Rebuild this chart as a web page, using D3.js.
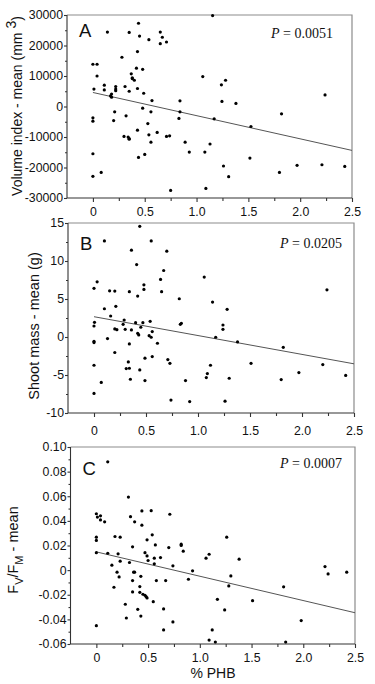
<!DOCTYPE html>
<html>
<head>
<meta charset="utf-8">
<script src="https://cdn.jsdelivr.net/npm/d3@7/dist/d3.min.js"></script>
<style>
  body { margin: 0; background: #fff; }
  svg { display: block; }
  text { font-family: "Liberation Sans", Arial, Helvetica, sans-serif; fill: #111; }
</style>
</head>
<body>
<div id="chart"></div>
<script>
// Panel A: volume index - mean (mm3) vs % PHB
const phbA = [0, 0.04, 0.04, 0.01, 0, 0, 0, 0, 0.08, 0.14, 0.11, 0.11, 0.17, 0.18, 0.18, 0.22, 0.22, 0.22, 0.21, 0.20,
  0.28, 0.31, 0.32, 0.30, 0.34, 0.35, 0.35, 0.35, 0.35, 0.37, 0.38, 0.38, 0.40, 0.42, 0.43, 0.43, 0.43, 0.44, 0.45, 0.44,
  0.48, 0.49, 0.48, 0.50, 0.54, 0.53, 0.54, 0.57, 0.56, 0.56, 0.62, 0.65, 0.65, 0.67, 0.71, 0.71, 0.74, 0.75, 0.84, 0.84,
  0.83, 0.89, 0.93, 1.06, 1.08, 1.09, 1.13, 1.155, 1.17, 1.24, 1.28, 1.245, 1.26, 1.31, 1.38, 1.515, 1.525, 1.82, 1.80, 1.97,
  2.21, 2.24, 2.43];
const volA = [13850, 13850, 10000, 5700, -3700, -4800, -15500, -22900, -21600, 24400, 7000, 5450, 3500, 4100, 3050, 6550, 5700, 5200, -1750, -4600,
  16150, 6550, -3050, -9800, -10000, -10500, -10700, 5000, 24300, 10700, 9400, 9150, 8600, 12550, 18000, 5900, -7750, 27300, 23100, -16700,
  12200, 4350, -550, -15700, 21900, -5600, -9300, 1950, -1750, -11700, -8500, 20600, 24400, 22700, 21150, -9800, -9600, -27500, 1850, -1750,
  -3900, -11700, -14950, 9800, -14950, -26850, -12300, 29800, -4050, 7100, 8600, 1650, -19500, -23000, 1000, -16900, -6550, -2400, -21600, -19300,
  -19100, 3800, -19650];
const fitA = [4600, -14400];

// Panel B: shoot mass - mean (g) vs % PHB
const phbB = [0.44, 0.10, 0.55, 0.36, 0.70, 0.41, 0.67, 0, 0.03, 0.15, 0.20, 0.34, 0.42, 0.48, 0.48, 0.64, 0.65, 1.06, 0.82, 1.14,
  1.28, 0.10, 0.21, 0.16, 0.005, 0, 0.20, 0.22, 0.29, 0.28, 0.30, 0.36, 0.40, 0.42, 0.43, 0.45, 0.47, 0.54, 0.53, 0.56,
  0.55, 0.13, 0, 0, 0.61, 0.83, 0.84, 1.17, 1.24, 1.24, 1.38, 0.34, 0.20, 0.33, 0.31, 0.34, 0.35, 0.44, 0.49, 0.56,
  0.49, 0, 0.07, 0, 0.71, 0.73, 0.74, 0.88, 0.92, 1.12, 1.09, 1.08, 1.26, 1.30, 1.51, 1.82, 1.80, 1.97, 2.20, 2.24,
  2.42];
const massB = [14.56, 12.64, 12.64, 11.42, 11.29, 9.53, 8.75, 6.4, 7.26, 6.08, 6.04, 5.96, 5.39, 6.87, 6.26, 7.57, 5.96, 7.88, 5.03, 4.6,
  3.64, 3.72, 4.03, 2.76, 1.93, 1.45, 1.06, 0.97, 2.24, 1.67, 1.01, 0.93, 1.89, 0.49, 0.27, 1.28, 1.89, 2.06, 0.18, 0.71,
  -0.03, -0.21, -0.56, -0.73, -0.82, 1.67, 1.80, -0.03, 1.58, 1.01, -0.65, -0.91, -2.04, -3.28, -4.16, -4.11, -5.56, -4.33, -2.79, -2.58,
  -5.73, -3.72, -5.98, -7.42, -2.97, -3.46, -8.3, -5.73, -8.5, -3.72, -4.81, -5.34, -8.44, -5.43, -3.46, -1.36, -5.6, -4.68, -3.63, 6.21,
  -5.05];
const fitB = [2.67, -3.53];

// Panel C: FV/FM - mean vs % PHB
const phbC = [0.11, 0.31, 0, 0.01, 0.04, 0.04, 0.08, 0, 0, 0, 0.18, 0.23, 0.33, 0.37, 0.44, 0.53, 0.44, 0.71, 0.35, 0.49,
  0.54, 0.57, 0.47, 0.49, 0.50, 0.56, 0.56, 0.62, 0.70, 0.82, 0.82, 0.84, 0.74, 0.11, 0.21, 0.15, 0.23, 0.32, 0.20, 0.22,
  0.36, 0.37, 0.35, 0.43, 0.17, 0.35, 0.42, 0.42, 0.45, 0.47, 0.48, 0.49, 0.55, 0.28, 0.40, 0.29, 0.43, 0, 0.58, 0.67,
  0.65, 0.74, 0.65, 0.89, 0.93, 1.06, 1.09, 1.17, 1.12, 1.09, 1.15, 1.26, 1.30, 1.28, 1.38, 1.24, 1.51, 1.81, 1.83, 1.98,
  2.21, 2.24, 2.42];
const fvfmC = [0.0880, 0.0593, 0.0458, 0.0431, 0.0441, 0.0408, 0.0392, 0.0268, 0.0241, 0.0142, 0.0273, 0.0268, 0.0434, 0.0392, 0.0481, 0.0483, 0.0365, 0.0454, 0.0189, 0.0246,
  0.0287, 0.0205, 0.0142, 0.0115, 0.0078, 0.0097, 0.0051, 0.0102, 0.0183, 0.0200, 0.0211, 0.0154, 0.0035, 0.0137, 0.0132, 0.0040, 0.0073, 0.0062, -0.0017, -0.0055,
  -0.0017, -0.0017, -0.0085, -0.0050, -0.0139, -0.0177, -0.0134, -0.0180, -0.0196, -0.0204, -0.0215, -0.0226, -0.0256, -0.0277, -0.0318, -0.0389, -0.0373, -0.0451, -0.0085, -0.0085,
  -0.0315, -0.0421, -0.0486, -0.0074, -0.0006, 0.0097, 0.0129, -0.0237, -0.0486, -0.0568, -0.0584, 0.0268, -0.0047, -0.0128, 0.0089, -0.0323, -0.0248, -0.0136, -0.0584, -0.0410,
  0.0029, -0.0031, -0.0017];
const fitC = [0.0148, -0.0346];

const fitX = [0, 2.5];
const xTicks = [0, 0.5, 1.0, 1.5, 2.0, 2.5];
const xTickLabels = ["0", "0.5", "1.0", "1.5", "2.0", "2.5"];
const xMinorTicks = [0.25, 0.75, 1.25, 1.75, 2.25];
const yTicksA = [30000, 20000, 10000, 0, -10000, -20000, -30000];
const yTickLabelsA = ["30000", "20000", "10000", "0", "-10000", "-20000", "-30000"];
const yMinorA = [25000, 15000, 5000, -5000, -15000, -25000];
const yTicksB = [15, 10, 5, 0, -5, -10];
const yTickLabelsB = ["15", "10", "5", "0", "-5", "-10"];
const yMinorB = [12.5, 7.5, 2.5, -2.5, -7.5];
const yTicksC = [0.10, 0.08, 0.06, 0.04, 0.02, 0, -0.02, -0.04, -0.06];
const yTickLabelsC = ["0.10", "0.08", "0.06", "0.04", "0.02", "0", "-0.02", "-0.04", "-0.06"];
const yMinorC = [0.09, 0.07, 0.05, 0.03, 0.01, -0.01, -0.03, -0.05];
const panelLetters = ["A", "B", "C"];
const pValues = ["0.0051", "0.0205", "0.0007"];

const width = 375, height = 684;
const svg = d3.select("#chart").append("svg")
    .attr("width", width)
    .attr("height", height);

// layout of the three stacked panels (pixels)
var panels = [
    {x: phbA, y: volA, fit: fitA, yDomain: [-30000, 30000], yTicks: yTicksA, yLabels: yTickLabelsA, yMinor: yMinorA,
     box: {left: 67, right: 352, top: 15, bottom: 198}, xPad: 5, letterDx: 12, letterDy: 22, pDx: 19, pDy: 23},
    {x: phbB, y: massB, fit: fitB, yDomain: [-10, 15], yTicks: yTicksB, yLabels: yTickLabelsB, yMinor: yMinorB,
     box: {left: 68, right: 354, top: 223, bottom: 413}, xPad: 9, letterDx: 12, letterDy: 27, pDx: 12, pDy: 25},
    {x: phbC, y: fvfmC, fit: fitC, yDomain: [-0.06, 0.10], yTicks: yTicksC, yLabels: yTickLabelsC, yMinor: yMinorC,
     box: {left: 70.5, right: 355, top: 447, bottom: 644}, xPad: 5, letterDx: 12, letterDy: 28, pDx: 13, pDy: 21}
];

panels.forEach(function(p, i) {
    var b = p.box;
    var x = d3.scaleLinear().domain([-0.25, 2.5]).range([b.left, b.right]);
    var y = d3.scaleLinear().domain(p.yDomain).range([b.bottom, b.top]);
    var g = svg.append("g");

    // frame: light top/right
    g.append("path")
        .attr("d", "M" + b.left + "," + b.top + "H" + b.right + "V" + b.bottom)
        .attr("fill", "none")
        .attr("stroke", "#8c8c8c")
        .attr("stroke-width", 1.2);

    // regression line
    g.append("line")
        .attr("x1", x(fitX[0])).attr("y1", y(p.fit[0]))
        .attr("x2", x(fitX[1])).attr("y2", y(p.fit[1]))
        .attr("stroke", "#555")
        .attr("stroke-width", 1);

    // points
    g.selectAll("circle")
        .data(p.x.map(function(d, j) { return [d, p.y[j]]; }))
        .enter().append("circle")
        .attr("cx", function(d) { return x(d[0]); })
        .attr("cy", function(d) { return y(d[1]); })
        .attr("r", 1.6)
        .attr("fill", "#000");

    // x axis
    var xAxis = d3.axisBottom(x).tickValues(xTicks).tickSize(4).tickPadding(p.xPad)
        .tickFormat(function(d, j) { return xTickLabels[j]; });
    var gx = g.append("g")
        .attr("transform", "translate(0," + b.bottom + ")")
        .call(xAxis);
    gx.select(".domain").attr("d", "M" + b.left + ",0H" + b.right);
    g.append("g")
        .attr("transform", "translate(0," + b.bottom + ")")
        .call(d3.axisBottom(x).tickValues(xMinorTicks).tickSize(3).tickFormat(""))
        .select(".domain").remove();

    // y axis
    var yAxis = d3.axisLeft(y).tickValues(p.yTicks).tickSize(3).tickPadding(1)
        .tickFormat(function(d, j) { return p.yLabels[j]; });
    var gy = g.append("g")
        .attr("transform", "translate(" + b.left + ",0)")
        .call(yAxis);
    gy.select(".domain").attr("d", "M0," + b.top + "V" + b.bottom);
    g.append("g")
        .attr("transform", "translate(" + b.left + ",0)")
        .call(d3.axisLeft(y).tickValues(p.yMinor).tickSize(2).tickFormat(""))
        .select(".domain").remove();

    g.selectAll(".domain, .tick line").attr("stroke", "#333").attr("stroke-width", 1.1);
    g.selectAll(".tick text")
        .attr("font-size", 12.3)
        .attr("font-family", "'Liberation Sans', Arial, sans-serif")
        .attr("fill", "#111");

    // panel letter
    g.append("text")
        .attr("x", b.left + p.letterDx)
        .attr("y", b.top + p.letterDy)
        .attr("font-size", 18.5)
        .text(panelLetters[i]);

    // P value
    var pt = g.append("text")
        .attr("x", b.right - p.pDx)
        .attr("y", b.top + p.pDy)
        .attr("text-anchor", "end")
        .attr("font-size", 14)
        .style("font-family", "'Liberation Serif', 'Times New Roman', serif");
    pt.append("tspan").attr("font-style", "italic").text("P");
    pt.append("tspan").text(" = " + pValues[i]);
});

// y axis titles
var tA = svg.append("text")
    .attr("transform", "translate(22,106) rotate(-90)")
    .attr("text-anchor", "middle")
    .attr("font-size", 14);
tA.append("tspan").text("Volume index - mean (mm ");
tA.append("tspan").attr("dy", -6).text("3");
tA.append("tspan").attr("dy", 6).text(")");

svg.append("text")
    .attr("transform", "translate(39,326) rotate(-90)")
    .attr("text-anchor", "middle")
    .attr("font-size", 14.5)
    .text("Shoot mass - mean (g)");

var tC = svg.append("text")
    .attr("transform", "translate(18,550) rotate(-90)")
    .attr("text-anchor", "middle")
    .attr("font-size", 14.5);
tC.append("tspan").text("F");
tC.append("tspan").attr("dy", 5).attr("font-size", 11).text("V");
tC.append("tspan").attr("dy", -5).text("/F");
tC.append("tspan").attr("dy", 5).attr("font-size", 11).text("M");
tC.append("tspan").attr("dy", -5).text(" - mean");

// x axis title
svg.append("text")
    .attr("x", 213)
    .attr("y", 678)
    .attr("text-anchor", "middle")
    .attr("font-size", 14)
    .text("% PHB");
</script>
</body>
</html>
